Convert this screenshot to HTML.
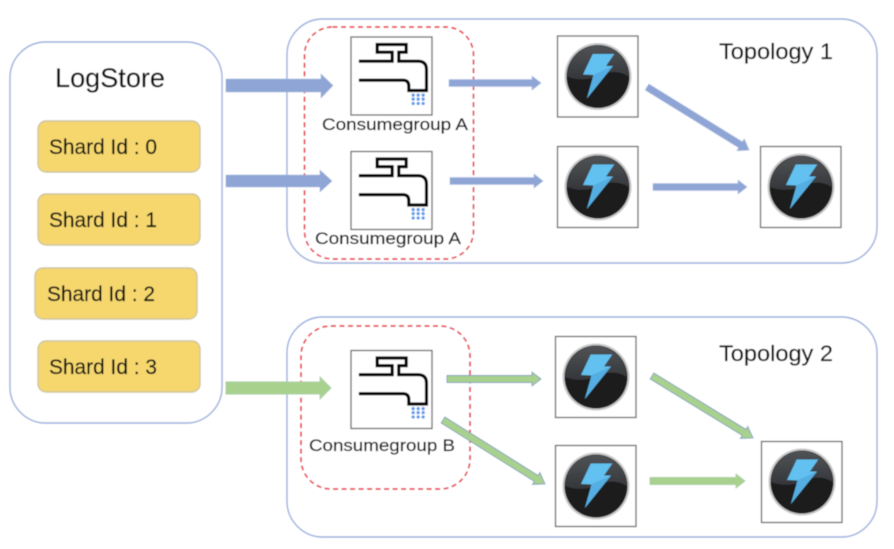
<!DOCTYPE html>
<html><head><meta charset="utf-8"><style>
html,body{margin:0;padding:0;background:#fff}
svg{display:block}
text{font-family:"Liberation Sans",sans-serif;fill:#111;stroke:#111;stroke-width:.2}
</style></head><body>
<svg width="894" height="549" viewBox="0 0 894 549" xmlns="http://www.w3.org/2000/svg">
<defs>
<filter id="b" x="-5%" y="-5%" width="110%" height="110%"><feGaussianBlur stdDeviation="0.45"/></filter>
<linearGradient id="top" x1="0" y1="0" x2="0" y2="1"><stop offset="0" stop-color="#505356"/><stop offset="1" stop-color="#34363a"/></linearGradient>
<symbol id="tap" overflow="visible" viewBox="0 0 82 80" width="82" height="80">
<rect x="0.5" y="0.5" width="81" height="78" fill="#fff" stroke="#666" stroke-width="1.3"/>
<g transform="translate(-10,-7) scale(.3333)">
<path d="M55 95H155V68H110V45H197V68H175V95H232Q258 95 258 120V183H205V170Q205 152 188 152H55" fill="none" stroke="#000" stroke-width="9.500"/>
<g fill="#5b9bec"><circle cx="218" cy="197" r="5"/><circle cx="233" cy="197" r="5"/><circle cx="248" cy="197" r="5"/><circle cx="218" cy="209" r="5"/><circle cx="233" cy="209" r="5"/><circle cx="248" cy="209" r="5"/><circle cx="218" cy="222" r="5"/><circle cx="233" cy="222" r="5"/><circle cx="248" cy="222" r="5"/></g>
</g>
</symbol>
<symbol id="bolt" overflow="visible" viewBox="0 0 82 82" width="82" height="82">
<rect x="0.5" y="0.5" width="80.5" height="81" fill="#fff" stroke="#666" stroke-width="1.3"/>
<circle cx="41" cy="41" r="33.500" fill="#999" opacity=".55"/>
<circle cx="41" cy="41" r="31.5" fill="#1c1a1b"/>
<path d="M10 41A31 31 0 0 1 72 41Q60 34 48 38Q28 48 10 41Z" fill="url(#top)"/>
<polygon points="35.700,18.500 57.300,18.500 49,30.500 56,30.500 30,62.800 36.500,39.500 26,39" fill="#62c1f0"/>
<polygon points="37,39 56,30.500 30,62.800 36.500,41" fill="#55aee2"/>
</symbol>
</defs>
<rect width="894" height="549" fill="#fff"/>
<g filter="url(#b)">
<rect x="10" y="42" width="212" height="381" rx="36" fill="#fff" stroke="#9db0dd" stroke-width="1.4"/>
<rect x="287" y="19" width="590" height="244" rx="36" fill="#fff" stroke="#9db0dd" stroke-width="1.4"/>
<rect x="287" y="317" width="590" height="220" rx="36" fill="#fff" stroke="#9db0dd" stroke-width="1.4"/>
<rect x="304.500" y="27" width="169" height="232" rx="28" fill="none" stroke="#e63c48" stroke-width="1.7" stroke-dasharray="5 3.500"/>
<rect x="301" y="326" width="169" height="163" rx="30" fill="none" stroke="#e63c48" stroke-width="1.7" stroke-dasharray="5 3.500"/>
<g fill="#f5d76e" stroke="#cfc5a0" stroke-width="1.4">
<rect x="38" y="121" width="162" height="51" rx="8"/>
<rect x="38" y="194" width="162" height="51" rx="8"/>
<rect x="35" y="268" width="162" height="51" rx="8"/>
<rect x="38" y="341" width="162" height="51" rx="8"/>
</g>
<use href="#tap" x="350.500" y="36.500" width="82" height="80"/>
<use href="#tap" x="350.500" y="151" width="82" height="80"/>
<use href="#tap" x="350.500" y="350" width="82" height="80"/>
<use href="#bolt" x="557" y="35.500" width="82" height="82"/>
<use href="#bolt" x="557" y="146" width="82" height="82"/>
<use href="#bolt" x="760" y="146" width="82" height="82"/>
<use href="#bolt" x="555" y="336" width="82" height="82"/>
<use href="#bolt" x="555" y="445" width="82" height="82"/>
<use href="#bolt" x="761" y="441" width="82" height="82"/>
<g fill="#8ea5d6" stroke="#a9bade" stroke-width=".6">
<polygon points="226,79 321,79 321,74 333,85.500 321,98 321,92 226,92"/>
<polygon points="226,175 320,175 320,170 332,181 320,192 320,187 226,187"/>
<polygon points="449,79.500 532,79.500 532,76 541,83 532,90 532,86.500 449,86.500"/>
<polygon points="450,177.500 534,177.500 534,174 543,181 534,188 534,184.500 450,184.500"/>
<polygon points="653,183.500 738,183.500 738,180 747,187 738,194 738,190.500 653,190.500"/>
<polygon transform="translate(647,87) rotate(31.7)" points="0,-3.500 110,-3.500 110,-7 120,0 110,7 110,3.500 0,3.500"/>
</g>
<g fill="#a9d18e" stroke="#7f9fc0" stroke-width=".9">
<polygon points="226,382 320,382 320,377 331,388 320,399 320,394 226,394" stroke="#a9cfa0"/>
<polygon points="447,375.500 532,375.500 532,372 541,379 532,386 532,382.500 447,382.500"/>
<polygon points="650,477.500 736,477.500 736,474 745,481 736,488 736,484.500 650,484.500" stroke="#a9cfa0"/>
<polygon transform="translate(443,420) rotate(32.1)" points="0,-3.500 110,-3.500 110,-7 120.400,0 110,7 110,3.500 0,3.500"/>
<polygon transform="translate(652,376) rotate(31.5)" points="0,-3.500 108,-3.500 108,-7 118.500,0 108,7 108,3.500 0,3.500"/>
</g>
<text x="55" y="87" font-size="27" textLength="110" lengthAdjust="spacingAndGlyphs">LogStore</text>
<text x="49" y="154" font-size="21" textLength="108" lengthAdjust="spacingAndGlyphs">Shard Id : 0</text>
<text x="49" y="227" font-size="21" textLength="108" lengthAdjust="spacingAndGlyphs">Shard Id : 1</text>
<text x="47" y="301" font-size="21" textLength="108" lengthAdjust="spacingAndGlyphs">Shard Id : 2</text>
<text x="49" y="374" font-size="21" textLength="108" lengthAdjust="spacingAndGlyphs">Shard Id : 3</text>
<text x="719" y="59" font-size="22" textLength="114" lengthAdjust="spacingAndGlyphs">Topology 1</text>
<text x="719" y="361" font-size="22" textLength="114" lengthAdjust="spacingAndGlyphs">Topology 2</text>
<text x="322" y="130" font-size="17" textLength="146" lengthAdjust="spacingAndGlyphs">Consumegroup A</text>
<text x="315" y="244" font-size="17" textLength="146" lengthAdjust="spacingAndGlyphs">Consumegroup A</text>
<text x="309" y="451" font-size="17" textLength="146" lengthAdjust="spacingAndGlyphs">Consumegroup B</text>
</g>
</svg>
</body></html>
